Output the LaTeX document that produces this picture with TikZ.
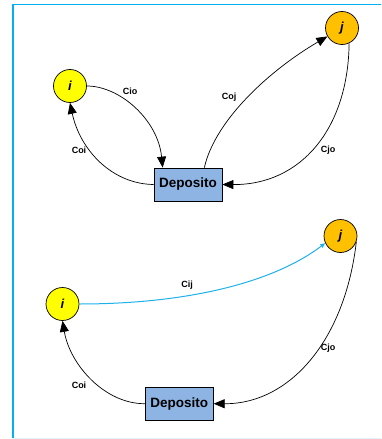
\documentclass[tikz,border=0pt]{standalone}
\usepackage{fontspec}
\setmainfont{Liberation Sans}
\usetikzlibrary{arrows.meta}
\definecolor{frame}{HTML}{00B0F0}
\definecolor{frameb}{HTML}{DDF4FC}
\definecolor{nodei}{HTML}{FFFF00}
\definecolor{nodej}{HTML}{FFC000}
\definecolor{depo}{HTML}{8EB4E3}
\definecolor{edgecyan}{HTML}{1FB1EA}
\tikzset{
  inode/.style={circle,draw=black,line width=0.7pt,fill=nodei,minimum size=33pt,inner sep=0pt,font=\fontsize{13}{13}\selectfont\bfseries\itshape},
  jnode/.style={inode,fill=nodej},
  depbox/.style={rectangle,draw=black,line width=0.7pt,fill=depo,minimum width=68pt,minimum height=33pt,inner sep=0pt,font=\fontsize{13.5}{14}\selectfont\bfseries},
  arr/.style={line width=0.7pt,-{Triangle[length=11pt,width=9pt]}},
  carr/.style={line width=1pt,draw=edgecyan,-{Triangle[length=5pt,width=4pt]}},
  lbl/.style={font=\fontsize{9}{10}\selectfont\bfseries,inner sep=0pt}
}
\begin{document}
\begin{tikzpicture}[x=1pt,y=1pt]
\useasboundingbox (0,0) rectangle (381,-439);
% frame
\draw[frame,line width=1.4pt] (13,-438) -- (13,-4.5) -- (381,-4.5);
\draw[frameb,line width=1pt] (13,-438.5) -- (381,-438.5);

% top diagram
\node[inode] (i1) at (70,-86) {i};
\node[jnode] (j1) at (342,-28) {j};
\node[depbox] (d1) at (188,-184.5) {Deposito};

\draw[arr] (i1.east) .. controls (120,-86) and (158,-120) .. ([xshift=9pt]d1.north west);
\draw[arr] (d1.west) .. controls (112,-184) and (80,-150) .. (i1.south);
\draw[arr] ([xshift=-18pt]d1.north east) .. controls (215,-120) and (270,-70) .. (j1.210);
\draw[arr] (j1.-65) .. controls (348,-130) and (300,-185) .. (d1.east);

\node[lbl] (l1) at (130,-91) {Cio};
\node[lbl] (l2) at (79,-150) {Coi};
\node[lbl] (l3) at (229,-97) {Coj};
\node[lbl] (l4) at (328,-150) {Cjo};

% bottom diagram
\node[inode] (i2) at (62.5,-304) {i};
\node[jnode] (j2) at (340.5,-236) {j};
\node[depbox] (d2) at (179.3,-403.7) {Deposito};

\draw[carr] (i2.east) .. controls (180,-304) and (270,-285) .. (j2.205);
\draw[arr] (j2.-20) .. controls (345,-340) and (290,-404) .. (d2.east);
\draw[arr] (d2.west) .. controls (105,-404) and (70,-365) .. (i2.south);

\node[lbl] (l5) at (187,-285.5) {Cij};
\node[lbl] (l6) at (328,-348) {Cjo};
\node[lbl] (l7) at (79,-385) {Coi};
\end{tikzpicture}
\end{document}
